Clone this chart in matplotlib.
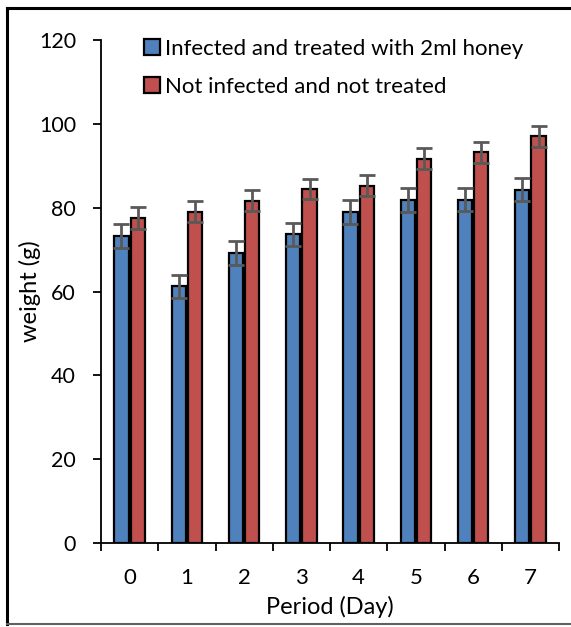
import matplotlib
matplotlib.use("Agg")
import matplotlib.pyplot as plt
from matplotlib.lines import Line2D
import numpy as np

plt.rcParams['font.family'] = ['Lato', 'DejaVu Sans']

days = ["0", "1", "2", "3", "4", "5", "6", "7"]
treated = [73.3, 61.2, 69.2, 73.6, 79.0, 81.9, 81.9, 84.3]
treated_err = [2.9, 2.7, 2.8, 2.8, 2.8, 2.9, 2.8, 2.8]
control = [77.6, 79.0, 81.6, 84.4, 85.2, 91.7, 93.2, 97.0]
control_err = [2.6, 2.5, 2.5, 2.4, 2.5, 2.5, 2.5, 2.5]
labels = ["Infected and treated with 2ml honey", "Not infected and not treated"]

W, H = 571, 627
fig = plt.figure(figsize=(W / 100, H / 100), dpi=100)
ax = fig.add_axes([101 / W, 1 - 543 / H, (559 - 101) / W, (543 - 40) / H])

x = np.arange(len(days))
bw = 0.245
off = 0.142
errkw = dict(ecolor="#595959", elinewidth=2, capsize=6, capthick=2)
ax.bar(x - off, treated, bw, yerr=treated_err, color="#4F81BD", edgecolor="black",
       linewidth=1.6, label=labels[0], error_kw=errkw, zorder=2)
ax.bar(x + off, control, bw, yerr=control_err, color="#C0504D", edgecolor="black",
       linewidth=1.6, label=labels[1], error_kw=errkw, zorder=2)

ax.set_xlim(-0.5, len(days) - 0.5)
ax.set_ylim(0, 120)
ax.set_yticks(np.arange(0, 121, 20))
ax.set_xticks(np.arange(-0.5, len(days), 1.0))
ax.set_xticklabels([])
ax.set_xticks(x, minor=True)
ax.set_xticklabels(days, minor=True)
ax.tick_params(axis="x", which="major", direction="out", length=6, width=1.3, color="black")
ax.tick_params(axis="x", which="minor", length=0, labelsize=16, pad=18)
ax.tick_params(axis="y", direction="out", length=6, width=1.3, labelsize=15.5, pad=12)

for s in ["top", "right"]:
    ax.spines[s].set_visible(False)
for s in ["left", "bottom"]:
    ax.spines[s].set_linewidth(1.3)

ax.set_ylabel("weight (g)", fontsize=17)
ax.yaxis.set_label_coords(-0.131, 0.5)
ax.set_xlabel("Period (Day)", fontsize=17, labelpad=6)

leg = ax.legend(loc="upper left", bbox_to_anchor=(0.075, 1.02), frameon=False,
                fontsize=16, handlelength=0.7, handleheight=0.7,
                handletextpad=0.25, labelspacing=0.8, borderaxespad=0)

# figure frame
fig.add_artist(Line2D([7 / W, 7 / W], [1 - 8 / H, 1 - 624 / H], color="black", lw=2.2, transform=fig.transFigure))
fig.add_artist(Line2D([7 / W, 1.0], [1 - 8 / H, 1 - 8 / H], color="black", lw=2.2, transform=fig.transFigure))
fig.add_artist(Line2D([7 / W, 1.0], [1 - 624 / H, 1 - 624 / H], color="#606060", lw=1.5, transform=fig.transFigure))

fig.savefig("out.png", dpi=100)
